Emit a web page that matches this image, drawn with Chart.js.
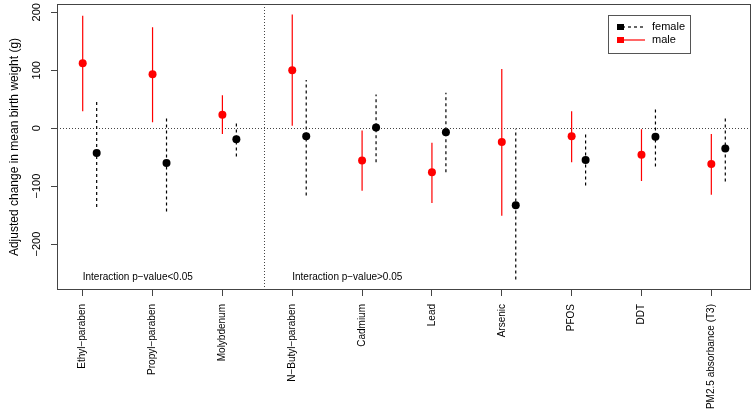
<!DOCTYPE html>
<html>
<head>
<meta charset="utf-8">
<script src="https://cdn.jsdelivr.net/npm/chart.js@4.4.1/dist/chart.umd.min.js"></script>
<style>
  html, body { margin: 0; padding: 0; background: #fff; }
  #wrap { width: 755px; height: 410px; }
</style>
</head>
<body>
<div id="wrap"><canvas id="chart" width="755" height="410"></canvas></div>
<script>
// --- data ---
const exposures = [
  "Ethyl−paraben", "Propyl−paraben", "Molybdenum", "N−Butyl−paraben", "Cadmium",
  "Lead", "Arsenic", "PFOS", "DDT", "PM2.5 absorbance (T3)",
];
const maleEst = [112, 93, 23, 100, -56, -76, -24, -14, -46, -62];
const maleLow = [29, 10, -10, 4, -108, -129, -151, -59, -91, -115];
const maleHigh = [194, 174, 57, 196, -4, -25, 102, 29, -2, -10];
const femaleEst = [-43, -60, -19, -14, 1, -7, -133, -55, -15, -35];
const femaleLow = [-136, -144, -49, -116, -59, -76, -261, -99, -66, -92];
const femaleHigh = [50, 21, 9, 83, 58, 61, -1, -11, 36, 21];
const yTicks = [-200, -100, 0, 100, 200];
const femaleShift = 0.2;
const splitAt = 3.6;
const noteY = -258;
const notes = [
  { x: 1, text: "Interaction p−value<0.05" },
  { x: 4, text: "Interaction p−value>0.05" },
];

const FONT = "'Liberation Sans', Arial, sans-serif";
const RED = "#ff0000";
const BLACK = "#000000";

// R-style axis limits: data range plus 4% each side
const xLo = 1, xHi = exposures.length + femaleShift;
const xPad = (xHi - xLo) * 0.04;
const yLo = Math.min(...maleLow, ...femaleLow);
const yHi = Math.max(...maleHigh, ...femaleHigh);
const yPad = (yHi - yLo) * 0.04;

function points(est, shift) {
  return est.map((v, i) => ({ x: i + 1 + shift, y: v }));
}

// each interval is a two-point segment, separated by a gap
function intervals(low, high, shift) {
  const out = [];
  low.forEach((lo, i) => {
    const x = i + 1 + shift;
    out.push({ x: x, y: lo }, { x: x, y: high[i] }, { x: x, y: null });
  });
  return out;
}

// reference lines, box, y labels, notes and legend
const decorations = {
  id: "decorations",
  beforeDatasetsDraw(chart) {
    const { ctx, chartArea: a, scales: { x, y } } = chart;
    ctx.save();
    ctx.strokeStyle = "#444";
    ctx.lineWidth = 1;
    ctx.setLineDash([1, 2]);
    const py = Math.round(y.getPixelForValue(0)) + 0.5;
    ctx.beginPath();
    ctx.moveTo(a.left, py);
    ctx.lineTo(a.right, py);
    ctx.stroke();
    const px = Math.round(x.getPixelForValue(splitAt)) + 0.5;
    ctx.beginPath();
    ctx.moveTo(px, a.top);
    ctx.lineTo(px, a.bottom);
    ctx.stroke();
    ctx.restore();
  },
  afterDraw(chart) {
    const { ctx, chartArea: a, scales: { x, y } } = chart;
    ctx.save();

    // plot box
    ctx.strokeStyle = "#444";
    ctx.lineWidth = 1;
    ctx.strokeRect(a.left + 0.5, a.top + 0.5, a.right - a.left - 1, a.bottom - a.top - 1);

    // y tick labels, rotated like R
    ctx.fillStyle = BLACK;
    ctx.font = "11px " + FONT;
    ctx.textAlign = "center";
    ctx.textBaseline = "middle";
    yTicks.forEach((v) => {
      ctx.save();
      ctx.translate(37, y.getPixelForValue(v));
      ctx.rotate(-Math.PI / 2);
      ctx.fillText(String(v).replace("-", "−"), 0, 0);
      ctx.restore();
    });

    // y title
    ctx.save();
    ctx.font = "12px " + FONT;
    ctx.translate(15, (a.top + a.bottom) / 2);
    ctx.rotate(-Math.PI / 2);
    ctx.fillText("Adjusted change in mean birth weight (g)", 0, 0);
    ctx.restore();

    // interaction notes
    ctx.font = "10px " + FONT;
    ctx.textAlign = "left";
    notes.forEach((n) => {
      ctx.fillText(n.text, x.getPixelForValue(n.x), y.getPixelForValue(noteY));
    });

    // legend
    const lx = 608, ly = 15, lw = 82, lh = 38;
    ctx.strokeStyle = "#555";
    ctx.strokeRect(lx + 0.5, ly + 0.5, lw, lh);
    const rows = [
      { label: "female", color: BLACK, dash: [3, 3], y: ly + 12 },
      { label: "male", color: RED, dash: [], y: ly + 25 },
    ];
    ctx.font = "11px " + FONT;
    rows.forEach((r) => {
      ctx.strokeStyle = r.color;
      ctx.lineWidth = 1.2;
      ctx.setLineDash(r.dash);
      ctx.beginPath();
      ctx.moveTo(lx + 14, r.y);
      ctx.lineTo(lx + 37, r.y);
      ctx.stroke();
      ctx.setLineDash([]);
      ctx.fillStyle = r.color;
      ctx.fillRect(lx + 9, r.y - 3, 7, 6);
      ctx.fillStyle = BLACK;
      ctx.fillText(r.label, lx + 44, r.y);
    });

    ctx.restore();
  },
};

const ctx = document.getElementById("chart").getContext("2d");
new Chart(ctx, {
  type: "scatter",
  data: {
    datasets: [
      {
        label: "male",
        data: points(maleEst, 0),
        backgroundColor: RED,
        borderWidth: 0,
        pointRadius: 4,
        order: 0,
      },
      {
        label: "female",
        data: points(femaleEst, femaleShift),
        backgroundColor: BLACK,
        borderWidth: 0,
        pointRadius: 4,
        order: 0,
      },
      {
        type: "line",
        label: "male CI",
        data: intervals(maleLow, maleHigh, 0),
        borderColor: RED,
        borderWidth: 1.2,
        pointRadius: 0,
        spanGaps: false,
        order: 1,
      },
      {
        type: "line",
        label: "female CI",
        data: intervals(femaleLow, femaleHigh, femaleShift),
        borderColor: BLACK,
        borderWidth: 1.2,
        borderDash: [3, 3],
        pointRadius: 0,
        spanGaps: false,
        order: 1,
      },
    ],
  },
  options: {
    responsive: false,
    animation: false,
    devicePixelRatio: 1,
    layout: { padding: { top: 4, right: 4, left: 0, bottom: 0 } },
    plugins: {
      legend: { display: false },
      tooltip: { enabled: false },
    },
    scales: {
      x: {
        type: "linear",
        min: xLo - xPad,
        max: xHi + xPad,
        afterBuildTicks: (s) => {
          s.ticks = exposures.map((_, i) => ({ value: i + 1 }));
        },
        afterFit: (s) => {
          s.height = 120;
        },
        ticks: {
          autoSkip: false,
          minRotation: 90,
          maxRotation: 90,
          padding: 8,
          color: BLACK,
          font: { family: FONT, size: 10 },
          callback: (v) => exposures[v - 1],
        },
        grid: { drawOnChartArea: false, drawTicks: true, tickLength: 6, color: "#444" },
        border: { display: false },
      },
      y: {
        type: "linear",
        min: yLo - yPad,
        max: yHi + yPad,
        afterBuildTicks: (s) => {
          s.ticks = yTicks.map((v) => ({ value: v }));
        },
        afterFit: (s) => {
          s.width = 57;
        },
        ticks: { display: false },
        grid: { drawOnChartArea: false, drawTicks: true, tickLength: 6, color: "#444" },
        border: { display: false },
      },
    },
  },
  plugins: [decorations],
});
</script>
</body>
</html>
